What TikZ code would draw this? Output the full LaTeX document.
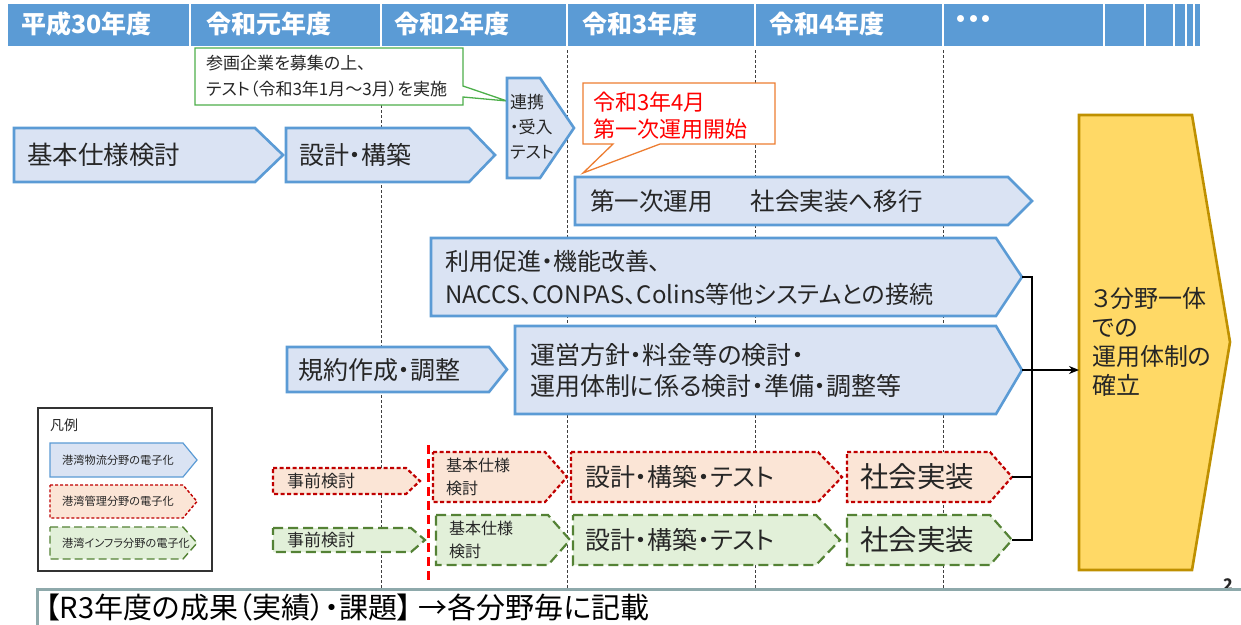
\documentclass[tikz,border=0pt]{standalone}
\usepackage{fontspec}
\setmainfont{Noto Sans CJK JP}[CharacterWidth=AlternateProportional]
\usetikzlibrary{arrows.meta}
\definecolor{hdr}{HTML}{5B9BD5}
\definecolor{bfill}{HTML}{DAE3F3}
\definecolor{bline}{HTML}{5B9BD5}
\definecolor{rfill}{HTML}{FBE5D6}
\definecolor{rline}{HTML}{C00000}
\definecolor{gfill}{HTML}{E2F0D9}
\definecolor{gline}{HTML}{548235}
\definecolor{yfill}{HTML}{FFD966}
\definecolor{yline}{HTML}{BF9000}
\definecolor{callg}{HTML}{4DAF4A}
\definecolor{callo}{HTML}{ED7D31}
\definecolor{barline}{HTML}{8EA9AB}
\definecolor{ink}{HTML}{262626}
\newcommand\fz[2]{\fontsize{#1}{#2}\selectfont}
% #1 style, #2 x0, #3 y0, #4 tip x, #5 y1, #6 tip width, #7 tip coordinate name
\newcommand\pentarrow[7]{%
  \draw[#1] (#2,#3) -- ({#4-#6},#3) -- (#4,{(#3+#5)/2}) -- ({#4-#6},#5) -- (#2,#5) -- cycle;
  \coordinate (#7) at (#4,{(#3+#5)/2});
}
\tikzset{
  bluebox/.style={draw=bline, fill=bfill, line width=2.6pt, line join=miter},
  redbox/.style={draw=rline, fill=rfill, line width=2.2pt, dash pattern=on 4pt off 2.5pt},
  greenbox/.style={draw=gline, fill=gfill, line width=2.2pt, dash pattern=on 10pt off 5pt},
  yellowbox/.style={draw=yline, fill=yfill, line width=2.6pt},
  guide/.style={draw=black!75, line width=0.9pt, dash pattern=on 3pt off 2pt},
  txt/.style={anchor=west, inner sep=0pt, align=left, text=ink},
  hdrtxt/.style={anchor=west, inner sep=0pt, text=white, font=\fz{25}{28}\bfseries},
  conn/.style={draw=black, line width=1.5pt},
}
\begin{document}
\begin{tikzpicture}[x=1pt,y=-1pt]
\useasboundingbox (0,0) rectangle (1241,624);
% header
\fill[hdr] (8,4) rectangle (1200,46);
\foreach \xx in {190,381,567,755,943,1104,1145,1174,1186,1194}
  \draw[white, line width=1.6pt] (\xx,4) -- (\xx,46);
\node[hdrtxt] (h0) at (21,24) {平成30年度};
\node[hdrtxt] (h1) at (206,24) {令和元年度};
\node[hdrtxt] (h2) at (394,24) {令和2年度};
\node[hdrtxt] (h3) at (582,24) {令和3年度};
\node[hdrtxt] (h4) at (769,24) {令和4年度};
\node[hdrtxt] (h5) at (955,22) {・・・};
% dashed guides
\foreach \xx in {381,567,755,943}
  \draw[guide] (\xx,50) -- (\xx,592);
% green callout
\draw[draw=callg, fill=white, line width=1.3pt] (195,48) -- (463,48) -- (463,86) -- (507,101) -- (463,97) -- (463,105) -- (195,105) -- cycle;
\node[txt, font=\fz{17}{26}] (c1) at (206,76) {参画企業を募集の上、\\テスト（令和3年1月～3月）を実施};
% orange callout
\draw[draw=callo, fill=white, line width=1.3pt] (583,83) -- (775,83) -- (775,144) -- (660,144) -- (583,173) -- (613,144) -- (583,144) -- cycle;
\node[txt, font=\fz{22}{27}, text=red] (c2) at (593,116) {令和3年4月\\第一次運用開始};
% blue boxes
\pentarrow{bluebox}{14}{128}{283}{182}{28}{b1}
\node[txt, font=\fz{25.5}{28}] (t1) at (27,155) {基本仕様検討};
\pentarrow{bluebox}{286}{128}{495}{182}{26}{b2}
\node[txt, font=\fz{25}{28}] (t2) at (299,155) {設計・構築};
\pentarrow{bluebox}{507}{78}{574}{178}{34}{b3}
\node[txt, font=\fz{17}{25}] (t3) at (510,127) {連携\\・受入\\テスト};
\pentarrow{bluebox}{575}{177}{1032}{225}{24}{b4}
\node[txt, font=\fz{24.5}{28}] (t4) at (590,201) {第一次運用\hspace{38pt}社会実装へ移行};
\pentarrow{bluebox}{431}{238}{1022}{316}{26}{b5}
\node[txt, font=\fz{24}{33}] (t5) at (445,278) {利用促進・機能改善、\\NACCS、CONPAS、Colins等他システムとの接続};
\pentarrow{bluebox}{287}{347}{507}{392}{18}{b6}
\node[txt, font=\fz{25}{28}] (t6) at (298,370) {規約作成・調整};
\pentarrow{bluebox}{515}{326}{1022}{414}{26}{b7}
\node[txt, font=\fz{25}{31}] (t7) at (530,371) {運営方針・料金等の検討・\\運用体制に係る検討・準備・調整等};
% red row
\pentarrow{redbox}{273}{468}{420}{494}{14}{r0}
\node[txt, font=\fz{17}{18}] (tr0) at (287,481) {事前検討};
\pentarrow{redbox}{433}{452}{567}{502}{22}{r1}
\node[txt, font=\fz{16}{23}] (tr1) at (446,477) {基本仕様\\検討};
\pentarrow{redbox}{571}{452}{842}{502}{24}{r2}
\node[txt, font=\fz{25}{28}] (tr2) at (585,477) {設計・構築・テスト};
\pentarrow{redbox}{847}{452}{1012}{502}{22}{r3}
\node[txt, font=\fz{28.5}{30}] (tr3) at (860,477) {社会実装};
% green row
\pentarrow{greenbox}{273}{528}{425}{552}{14}{g0}
\node[txt, font=\fz{17}{18}] (tg0) at (287,540) {事前検討};
\pentarrow{greenbox}{436}{515}{570}{565}{22}{g1}
\node[txt, font=\fz{16}{23}] (tg1) at (449,540) {基本仕様\\検討};
\pentarrow{greenbox}{573}{515}{840}{565}{24}{g2}
\node[txt, font=\fz{25}{28}] (tg2) at (585,540) {設計・構築・テスト};
\pentarrow{greenbox}{847}{515}{1012}{565}{22}{g3}
\node[txt, font=\fz{28.5}{30}] (tg3) at (860,540) {社会実装};
% red milestone line
\draw[red, line width=3pt, dash pattern=on 9pt off 5pt] (428,445) -- (428,582);
% yellow goal
\draw[yellowbox] (1079,115) -- (1192,115) -- (1230,342) -- (1192,570) -- (1079,570) -- cycle;
\node[txt, font=\fz{24}{29}] (ty) at (1092,342) {３分野一体\\での\\運用体制の\\確立};
\coordinate (yin) at (1079,370);
% connectors
\coordinate (jt) at (1032,277);
\coordinate (jb) at (1032,540);
\draw[conn] (b5) -- (jt) -- (jb) -- (g3);
\draw[conn] (r3) -- (r3 -| jt);
\draw[conn, -{Stealth[length=10pt,width=8pt]}] (b7) -- (yin);
% legend
\draw[black!80, line width=1.3pt, fill=white] (38,408) rectangle (212,571);
\node[txt, font=\fz{14}{16}] (lt) at (50,425) {凡例};
\pentarrow{bluebox, line width=1.2pt}{50}{443}{197}{477}{14}{l1}
\node[txt, font=\fz{11.2}{12}] (lt1) at (62,460) {港湾物流分野の電子化};
\pentarrow{redbox, line width=1.4pt, dash pattern=on 3pt off 2pt}{50}{485}{197}{518}{14}{l2}
\node[txt, font=\fz{11.2}{12}] (lt2) at (62,501) {港湾管理分野の電子化};
\pentarrow{greenbox, line width=1.4pt, dash pattern=on 8pt off 4pt}{50}{527}{197}{559}{14}{l3}
\node[txt, font=\fz{11.2}{12}] (lt3) at (62,543) {港湾インフラ分野の電子化};
% page number (partly hidden) and bottom bar
\node[anchor=north, inner sep=0pt, font=\fz{16}{18}\bfseries, text=black!85] (pg) at (1228,578) {2};
\draw[draw=barline, line width=3pt, fill=white] (37,589) rectangle (1250,632);
\node[txt, font=\fz{29}{30}, text=black] (bt) at (45,607) {【R3年度の成果（実績）・課題】 →各分野毎に記載};
\end{tikzpicture}
\end{document}
